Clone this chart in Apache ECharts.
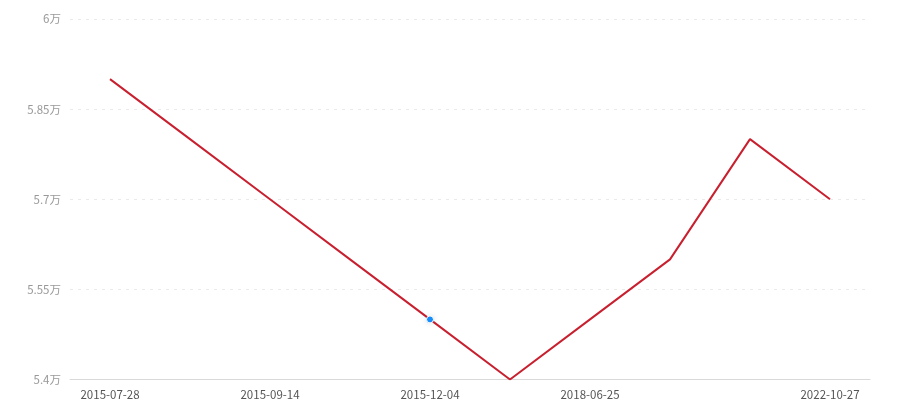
<!DOCTYPE html>
<html>
<head>
<meta charset="utf-8">
<script src="https://cdn.jsdelivr.net/npm/echarts@6/dist/echarts.min.js"></script>
<style>html,body{margin:0;padding:0;background:#fff;}#c{width:900px;height:400px;}</style>
</head>
<body>
<div id="c"></div>
<script>
var categories = ['2015-07-28','2015-08-20','2015-09-14','2015-10-22','2015-12-04','2016-08-15','2018-06-25','2019-09-10','2021-05-18','2022-10-27'];
var values = [59000, 58000, 57000, 56000, 55000, 54000, 55000, 56000, 58000, 57000];
var labelIndices = [0, 2, 4, 6, 9];
var highlightIndex = 4;

var chart = echarts.init(document.getElementById('c'));
var data = values.map(function (v, i) {
  if (i === highlightIndex) {
    return {
      value: v,
      symbol: 'circle',
      symbolSize: 7,
      itemStyle: { color: '#1890ff', borderColor: '#fff', borderWidth: 1, shadowColor: 'rgba(0,0,0,0.12)', shadowBlur: 6 }
    };
  }
  return { value: v, symbol: 'none' };
});
function showIdx(i) { return labelIndices.indexOf(i) >= 0; }
chart.setOption({
  animation: false,
  grid: { left: 70, right: 30, top: 19, bottom: 20, containLabel: false },
  xAxis: {
    type: 'category',
    data: categories,
    boundaryGap: true,
    axisLine: { lineStyle: { color: '#d9d9d9' } },
    axisTick: { alignWithLabel: true, interval: function (i) { return showIdx(i); }, length: 4, lineStyle: { color: '#d9d9d9' } },
    axisLabel: { interval: function (i) { return showIdx(i); }, color: '#555', fontSize: 11.5, margin: 9, fontFamily: 'Noto Sans CJK SC' }
  },
  yAxis: {
    type: 'value',
    min: 54000,
    max: 60000,
    interval: 1500,
    axisLine: { show: false },
    axisTick: { show: false },
    splitLine: { lineStyle: { color: '#eaeaea', type: [3, 5] } },
    axisLabel: {
      color: '#999',
      fontSize: 11.5,
      margin: 9,
      fontFamily: 'Noto Sans CJK SC',
      formatter: function (v) { return (v / 10000) + '万'; }
    }
  },
  series: [{
    type: 'line',
    data: data,
    symbol: 'none',
    showSymbol: true,
    lineStyle: { color: '#c8202f', width: 2 },
    itemStyle: { color: '#c8202f' }
  }]
});
</script>
</body>
</html>
